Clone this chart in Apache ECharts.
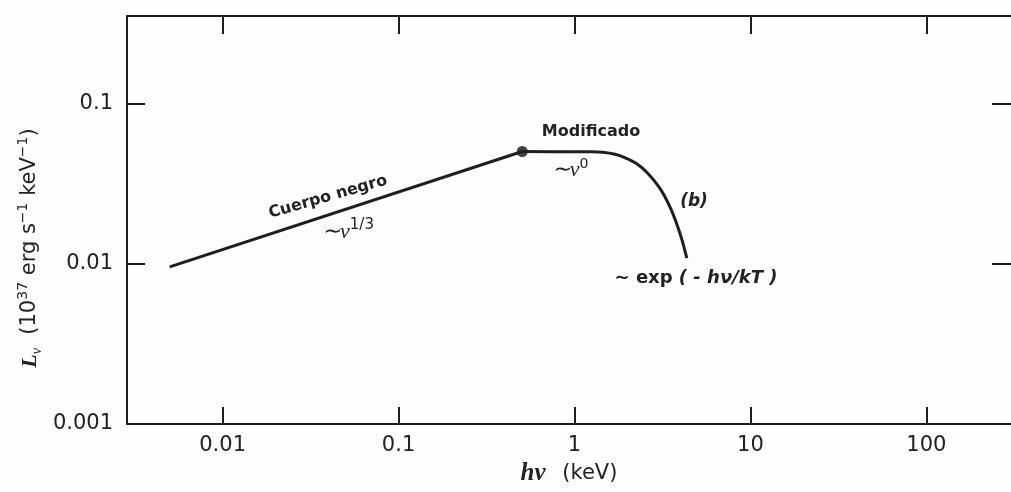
<!DOCTYPE html>
<html>
<head>
<meta charset="utf-8">
<script src="https://cdn.jsdelivr.net/npm/echarts@6/dist/echarts.min.js"></script>
<style>
html, body { margin: 0; padding: 0; background: #fff; }
#chart { width: 1011px; height: 492px; }
</style>
</head>
<body>
<div id="chart"></div>
<script>
// blackbody part ~ nu^(1/3)
var bbHv = [0.005, 0.505]
var bbLum = [0.0096, 0.0505]
// modified part, flat then exponential cut-off
var modHv = [0.505, 1.0, 1.25, 1.45, 1.7, 1.93, 2.25, 2.6, 3.0, 3.25, 3.55, 3.85, 4.1, 4.35]
var modLum = [0.0505, 0.0503, 0.0503, 0.0499, 0.0485, 0.0463, 0.0425, 0.0371, 0.0307, 0.0266, 0.0218, 0.0173, 0.01396, 0.0109]
// the break point
var dotHv = [0.505]
var dotLum = [0.0505]

var xTicks = [0.01, 0.1, 1, 10, 100]
var yTicks = [0.001, 0.01, 0.1]

function pairs(xs, ys) {
	return xs.map(function (x, i) { return [x, ys[i]] })
}

var ink = '#1e1e1e'
var textInk = '#222'
var labelFont = 'DejaVu Sans'

var xMin = 0.00286, xMax = 303
var yMin = 0.001, yMax = 0.355

var myChart = echarts.init(document.getElementById('chart'))

var options = {
	animation: false,
	backgroundColor: '#fdfdfd',
	grid: { left: 127, top: 16, right: -4, bottom: 68 },
	xAxis: [{
		type: 'log', min: xMin, max: xMax, position: 'bottom',
		axisLine: { lineStyle: { color: ink, width: 2 } },
		axisTick: { inside: true, length: 17, customValues: xTicks, lineStyle: { color: ink, width: 2 } },
		axisLabel: {
			customValues: xTicks, margin: 11, fontSize: 21, color: textInk, fontFamily: labelFont,
			formatter: function (v) { return String(v) }
		},
		splitLine: { show: false },
		name: '{i|hν}     {n|(keV)}', nameLocation: 'middle', nameGap: 34,
		nameTextStyle: {
			rich: {
				i: { fontFamily: 'Liberation Serif', fontStyle: 'italic', fontWeight: 'bold', fontSize: 25, color: textInk },
				n: { fontFamily: labelFont, fontSize: 21, color: textInk }
			}
		}
	}, {
		type: 'log', min: xMin, max: xMax, position: 'top',
		axisLine: { lineStyle: { color: ink, width: 2 } },
		axisTick: { inside: true, length: 18, customValues: xTicks, lineStyle: { color: ink, width: 2 } },
		axisLabel: { show: false },
		splitLine: { show: false }
	}],
	yAxis: [{
		type: 'log', min: yMin, max: yMax, position: 'left',
		axisLine: { lineStyle: { color: ink, width: 2 } },
		axisTick: { inside: true, length: 18, customValues: yTicks, lineStyle: { color: ink, width: 2 } },
		axisLabel: {
			customValues: yTicks, margin: 14, fontSize: 21, color: textInk, fontFamily: labelFont,
			formatter: function (v) { return String(v) }
		},
		splitLine: { show: false }
	}, {
		type: 'log', min: yMin, max: yMax, position: 'right',
		axisLine: { show: false },
		axisTick: { inside: true, length: 19, customValues: [0.01, 0.1], lineStyle: { color: ink, width: 2 } },
		axisLabel: { show: false },
		splitLine: { show: false }
	}],
	series: [{
		name: 'Cuerpo negro', type: 'line', data: pairs(bbHv, bbLum),
		symbol: 'none', lineStyle: { color: ink, width: 3 }
	}, {
		name: 'Modificado', type: 'line', data: pairs(modHv, modLum),
		symbol: 'none', smooth: 0.3, lineStyle: { color: ink, width: 3 }
	}, {
		type: 'scatter', data: pairs(dotHv, dotLum),
		symbolSize: 11, itemStyle: { color: '#111' }
	}],
	graphic: [{
		type: 'text', x: 30, y: 248, rotation: Math.PI / 2,
		style: {
			text: '{L|L}{s|ν}    {t|(10}{p|37}{t| erg s}{p|−1}{t| keV}{p|−1}{t|)}',
			align: 'center', verticalAlign: 'middle',
			rich: {
				L: { fontFamily: 'Liberation Serif', fontStyle: 'italic', fontWeight: 'bold', fontSize: 22, fill: textInk, lineHeight: 28 },
				s: { fontFamily: 'Liberation Serif', fontStyle: 'italic', fontSize: 14, fill: textInk, verticalAlign: 'bottom', lineHeight: 28 },
				t: { fontFamily: labelFont, fontSize: 21, fill: textInk, lineHeight: 28 },
				p: { fontFamily: labelFont, fontSize: 14, fill: textInk, verticalAlign: 'top', lineHeight: 28 }
			}
		}
	}, {
		type: 'text', x: 591, y: 132,
		style: { text: 'Modificado', align: 'center', verticalAlign: 'middle', font: 'bold 16px "DejaVu Sans"', fill: textInk }
	}, {
		type: 'text', x: 570, y: 170,
		style: {
			text: '{a|∼ν}{b|0}', align: 'center', verticalAlign: 'middle',
			rich: {
				a: { fontFamily: 'Liberation Serif', fontStyle: 'italic', fontSize: 22, fill: textInk, lineHeight: 26 },
				b: { fontFamily: labelFont, fontSize: 14, fill: textInk, verticalAlign: 'top', lineHeight: 26 }
			}
		}
	}, {
		type: 'text', x: 328, y: 197, rotation: 16 * Math.PI / 180,
		style: { text: 'Cuerpo negro', align: 'center', verticalAlign: 'middle', font: 'bold 16px "DejaVu Sans"', fill: textInk }
	}, {
		type: 'text', x: 348, y: 232,
		style: {
			text: '{a|∼ν}{b|1/3}', align: 'center', verticalAlign: 'middle',
			rich: {
				a: { fontFamily: 'Liberation Serif', fontStyle: 'italic', fontSize: 22, fill: textInk, lineHeight: 28 },
				b: { fontFamily: labelFont, fontSize: 15, fill: textInk, verticalAlign: 'top', lineHeight: 28 }
			}
		}
	}, {
		type: 'text', x: 694, y: 202,
		style: { text: '(b)', align: 'center', verticalAlign: 'middle', font: 'italic bold 17px "DejaVu Sans"', fill: textInk }
	}, {
		type: 'text', x: 696, y: 278,
		style: {
			text: '{a|∼ exp }{b|( - hν/kT )}', align: 'center', verticalAlign: 'middle',
			rich: {
				a: { fontFamily: labelFont, fontWeight: 'bold', fontSize: 18, fill: textInk },
				b: { fontFamily: labelFont, fontWeight: 'bold', fontStyle: 'italic', fontSize: 18, fill: textInk }
			}
		}
	}]
}

myChart.setOption(options)
</script>
</body>
</html>
